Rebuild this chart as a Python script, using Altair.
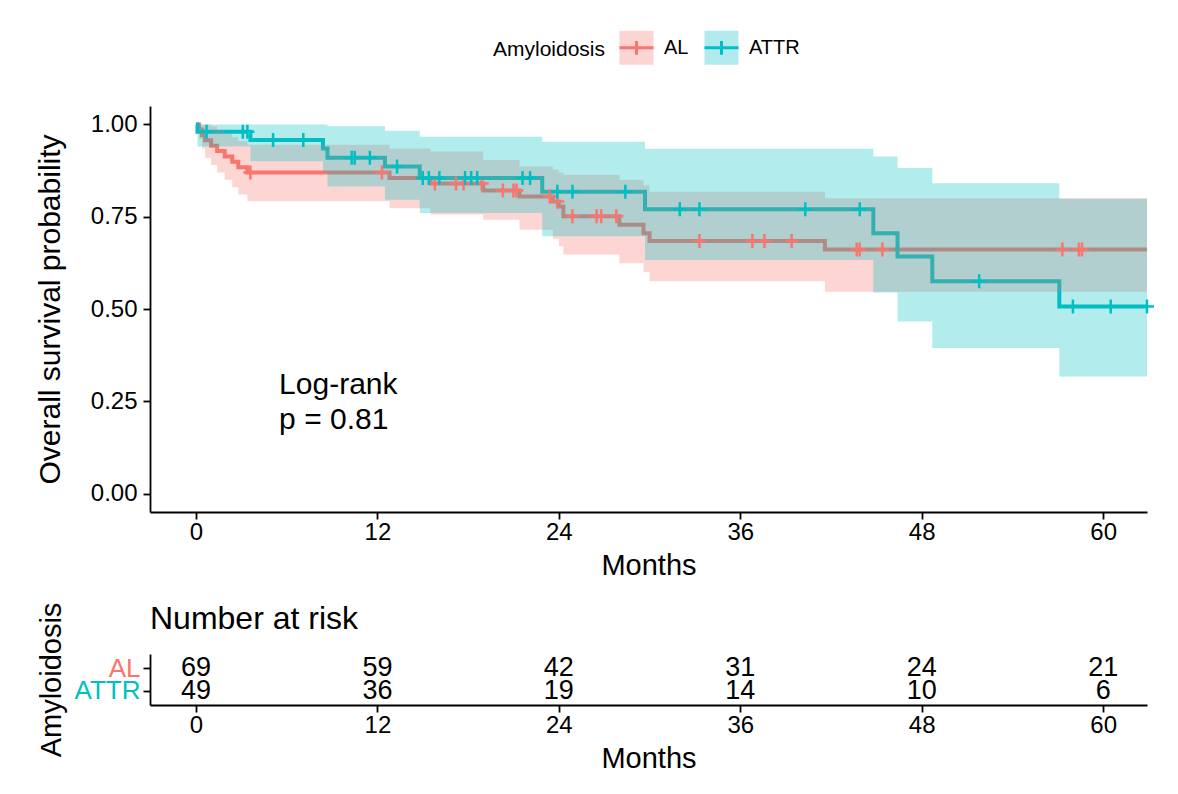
import altair as alt
import pandas as pd

FONT = "Liberation Sans"
groups = ["AL", "ATTR"]
group_colors = ["#F8766D", "#00BFC4"]

# AL (red): Kaplan-Meier steps and 95% band
al_time = [0.0, 0.2, 0.4, 0.6, 1.0, 1.4, 1.9, 2.4, 2.8, 3.4, 12.8, 15.5, 19.0, 21.4, 23.6, 24.0, 24.3, 28.0, 29.6, 30.0, 41.6, 62.9]
al_surv = [1.0, 0.986, 0.971, 0.957, 0.942, 0.928, 0.913, 0.899, 0.884, 0.870, 0.855, 0.840, 0.821, 0.805, 0.791, 0.778, 0.751, 0.728, 0.705, 0.684, 0.661, 0.661]
al_lower = [1.0, 0.960, 0.935, 0.910, 0.890, 0.870, 0.850, 0.830, 0.810, 0.792, 0.773, 0.756, 0.742, 0.715, 0.690, 0.670, 0.648, 0.624, 0.600, 0.575, 0.547, 0.547]
al_upper = [1.0, 1.0, 1.0, 1.0, 0.995, 0.985, 0.975, 0.965, 0.955, 0.945, 0.935, 0.927, 0.904, 0.886, 0.877, 0.870, 0.864, 0.850, 0.835, 0.818, 0.800, 0.800]
al_censor = [3.6, 12.3, 15.8, 17.2, 17.7, 18.9, 20.3, 21.0, 21.2, 23.4, 23.9, 24.9, 26.5, 26.8, 27.8,
             33.3, 36.8, 37.6, 39.4, 43.7, 43.9, 45.4, 57.3, 58.4, 58.6]

# ATTR (teal)
at_time = [0.0, 0.1, 3.6, 8.4, 8.7, 12.5, 14.8, 22.9, 29.7, 44.8, 46.4, 48.7, 57.1, 62.9]
at_surv = [1.0, 0.980, 0.958, 0.935, 0.910, 0.886, 0.855, 0.818, 0.770, 0.705, 0.642, 0.575, 0.507, 0.507]
at_lower = [1.0, 0.940, 0.900, 0.870, 0.832, 0.796, 0.760, 0.697, 0.633, 0.545, 0.466, 0.394, 0.317, 0.317]
at_upper = [1.0, 1.0, 1.0, 1.0, 0.995, 0.983, 0.967, 0.953, 0.934, 0.913, 0.882, 0.841, 0.799, 0.799]
at_censor = [0.7, 3.1, 3.4, 5.1, 7.1, 10.3, 10.5, 11.5, 13.3, 15.0, 15.4, 16.1, 17.8, 18.2, 18.6,
             21.6, 22.1, 23.9, 24.9, 28.4, 32.0, 33.3, 40.3, 43.9, 51.8, 58.0, 60.5, 62.9]

# number at risk table
risk_times = [0, 12, 24, 36, 48, 60]
risk_al = [69, 59, 42, 31, 24, 21]
risk_attr = [49, 36, 19, 14, 10, 6]

# annotation
annot_lines = ["Log-rank", "p = 0.81"]
annot_x = [5.5, 5.5]
annot_y = [0.295, 0.200]

x_ticks = [0, 12, 24, 36, 48, 60]
y_ticks = [0.0, 0.25, 0.5, 0.75, 1.0]
x_domain = [-3.04, 62.9]
y_domain = [-0.05, 1.05]


def step_value(times, values, t):
    v = values[0]
    for ti, vi in zip(times, values):
        if ti <= t:
            v = vi
    return v


curve_rows = []
for g, ts, ss, lo, up in [("AL", al_time, al_surv, al_lower, al_upper),
                          ("ATTR", at_time, at_surv, at_lower, at_upper)]:
    for t, s, l, u in zip(ts, ss, lo, up):
        curve_rows.append({"group": g, "series": g, "time": t, "surv": s, "lower": l, "upper": u})
curve_df = pd.DataFrame(curve_rows)

cens_al_df = pd.DataFrame({"time": al_censor, "surv": [step_value(al_time, al_surv, t) for t in al_censor]})
cens_at_df = pd.DataFrame({"time": at_censor, "surv": [step_value(at_time, at_surv, t) for t in at_censor]})

annot_df = pd.DataFrame({"x": annot_x, "y": annot_y, "label": annot_lines})

risk_rows = []
for g, ns in [("AL", risk_al), ("ATTR", risk_attr)]:
    for t, n in zip(risk_times, ns):
        risk_rows.append({"group": g, "time": t, "n": n})
risk_df = pd.DataFrame(risk_rows)

axis_style = dict(domainColor="black", tickColor="black", labelColor="black", titleColor="black",
                  domainWidth=1.8, tickWidth=1.8, tickSize=7, grid=False,
                  labelFont=FONT, titleFont=FONT, titleFontWeight="normal")

x_scale = alt.Scale(domain=x_domain, nice=False, zero=False)
y_scale = alt.Scale(domain=y_domain, nice=False, zero=False)

x_axis = alt.Axis(values=x_ticks, title="Months", labelFontSize=24, titleFontSize=29,
                  labelPadding=1, titlePadding=7, **axis_style)
y_axis = alt.Axis(values=y_ticks, format=".2f", title="Overall survival probability",
                  labelFontSize=24, titleFontSize=30, labelPadding=6, titlePadding=25, **axis_style)

X = alt.X("time:Q", scale=x_scale, axis=x_axis)

legend_common = dict(orient="none", legendX=343, legendY=-77, direction="horizontal",
                     titleOrient="left", symbolSize=1156, symbolStrokeWidth=3,
                     labelFontSize=20, titleFontSize=21,
                     titleFontWeight="normal", labelOffset=9, columnPadding=9, titlePadding=12,
                     titleColor="black", labelColor="black", labelFont=FONT, titleFont=FONT)

lines = alt.Chart(curve_df).mark_line(interpolate="step-after", strokeWidth=4).encode(
    x=X,
    y=alt.Y("surv:Q", scale=y_scale, axis=y_axis),
    stroke=alt.Stroke("series:N", scale=alt.Scale(range=group_colors),
                      legend=alt.Legend(title="Amyloidosis", symbolType="M-1,0L1,0M0,-0.4L0,0.4",
                                        labelOpacity=0, titleOpacity=0, **legend_common)),
)

ribbons = alt.Chart(curve_df).mark_area(interpolate="step-after", opacity=0.3).encode(
    x=X,
    y=alt.Y("lower:Q", scale=y_scale, axis=y_axis),
    y2="upper:Q",
    fill=alt.Fill("group:N", scale=alt.Scale(domain=groups, range=group_colors),
                  legend=alt.Legend(title="Amyloidosis", symbolType="square", symbolOpacity=0.3,
                                    symbolStrokeColor="transparent", **legend_common)),
)

cross = "M-1,0L1,0M0,-1L0,1"
cens_al = alt.Chart(cens_al_df).mark_point(shape=cross, size=196, strokeWidth=2.5, filled=False,
                                           color=group_colors[0], opacity=1).encode(
    x=X, y=alt.Y("surv:Q", scale=y_scale, axis=y_axis))
cens_at = alt.Chart(cens_at_df).mark_point(shape=cross, size=196, strokeWidth=2.5, filled=False,
                                           color=group_colors[1], opacity=1).encode(
    x=X, y=alt.Y("surv:Q", scale=y_scale, axis=y_axis))

annot = alt.Chart(annot_df).mark_text(align="left", baseline="middle", fontSize=30,
                                      color="black", font=FONT).encode(
    x=alt.X("x:Q", scale=x_scale, axis=x_axis),
    y=alt.Y("y:Q", scale=y_scale, axis=y_axis),
    text="label:N",
)

main = alt.layer(lines, ribbons, cens_al, cens_at, annot).properties(width=997, height=406)

risk = alt.Chart(risk_df).mark_text(fontSize=27, color="black", baseline="middle", font=FONT).encode(
    x=alt.X("time:Q", scale=x_scale,
            axis=alt.Axis(values=x_ticks, title="Months", labelFontSize=24, titleFontSize=29,
                          labelPadding=1, titlePadding=7, **axis_style)),
    y=alt.Y("group:N", scale=alt.Scale(domain=groups, padding=0.61),
            axis=alt.Axis(title="Amyloidosis", labelFontSize=26, titleFontSize=29,
                          labelPadding=3, titlePadding=8,
                          domainColor="black", tickColor="black", titleColor="black",
                          domainWidth=1.8, tickWidth=1.8, tickSize=7, grid=False,
                          labelFont=FONT, titleFont=FONT, titleFontWeight="normal",
                          labelColor={"condition": {"test": "datum.value === 'AL'", "value": group_colors[0]},
                                      "value": group_colors[1]})),
    text="n:Q",
).properties(width=997, height=51,
             title=alt.Title("Number at risk", anchor="start", frame="group", fontSize=32,
                             fontWeight="normal", font=FONT, color="black", offset=-34))

chart = alt.vconcat(main, risk, spacing=22).properties(
    padding={"left": 27, "top": 21, "right": 5, "bottom": 5}
).configure(font=FONT).configure_view(strokeWidth=0)

chart.save("out.html", embed_options={"renderer": "svg", "actions": False})
